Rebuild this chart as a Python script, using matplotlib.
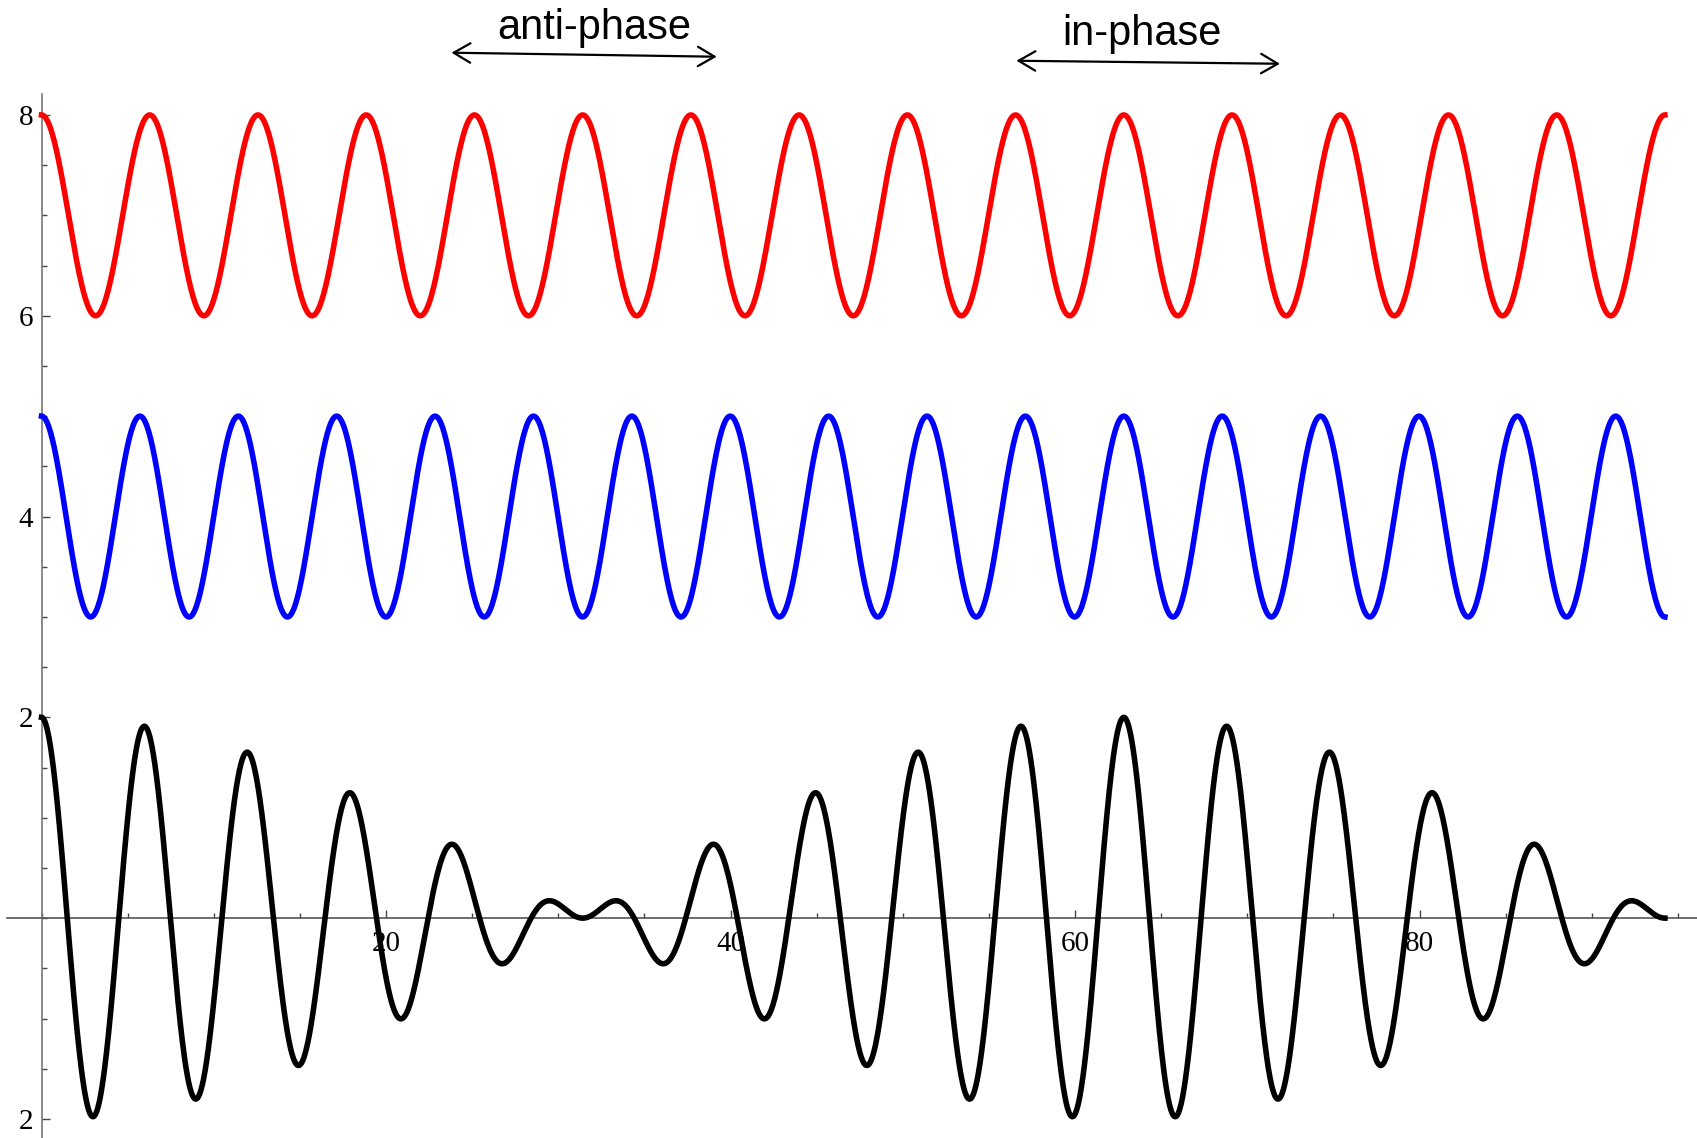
import numpy as np
import matplotlib
matplotlib.use("Agg")
import matplotlib.pyplot as plt
from matplotlib.ticker import MultipleLocator, FixedLocator, FixedFormatter

# --- values ---
T_END = 30 * np.pi            # curves end a bit past 94
FREQ_RED = 1.0                # 15 full periods over the range
FREQ_BLUE = 1.1               # 16.5 periods over the range
OFFSET_RED = 7.0
OFFSET_BLUE = 4.0
AMPLITUDE = 1.0

Y_TICKS = [8, 6, 4, 2, -2]
Y_LABELS = ["8", "6", "4", "2", "2"]
Y_MINOR = np.arange(-2.0, 8.01, 0.5)
X_TICKS = [20, 40, 60, 80]
X_LABELS = ["20", "40", "60", "80"]

t = np.linspace(0, T_END, 4000)
wave_red = AMPLITUDE * np.cos(FREQ_RED * t)
wave_blue = AMPLITUDE * np.cos(FREQ_BLUE * t)

fig = plt.figure(figsize=(16.97, 11.38), dpi=100)
ax = fig.add_axes([0, 0, 1, 1])

ax.plot(t, wave_red + wave_blue, color="black", lw=4.0, zorder=3)
ax.plot(t, OFFSET_BLUE + wave_blue, color="#0000ff", lw=4.0, zorder=3)
ax.plot(t, OFFSET_RED + wave_red, color="#ff0000", lw=4.0, zorder=3)

ax.set_xlim(-2.41, 96.11)
ax.set_ylim(-2.19, 9.145)

# Mathematica style axes crossing at the origin
for side in ["top", "right"]:
    ax.spines[side].set_visible(False)
ax.spines["left"].set_position(("data", 0))
ax.spines["bottom"].set_position(("data", 0))
ax.spines["left"].set_bounds(-2.19, 8.21)
ax.spines["bottom"].set_bounds(-2.0, 96.11)
ax.spines["left"].set_color("#777777")
ax.spines["bottom"].set_color("#555555")
ax.spines["left"].set_linewidth(1.2)
ax.spines["bottom"].set_linewidth(1.2)

ax.xaxis.set_major_locator(FixedLocator(X_TICKS))
ax.xaxis.set_major_formatter(FixedFormatter(X_LABELS))
ax.xaxis.set_minor_locator(MultipleLocator(5))
ax.yaxis.set_major_locator(FixedLocator(Y_TICKS))
ax.yaxis.set_major_formatter(FixedFormatter(Y_LABELS))
ax.yaxis.set_minor_locator(FixedLocator(Y_MINOR))

ax.tick_params(which="both", direction="in", color="#444444", width=1.0)
ax.tick_params(which="major", length=6)
ax.tick_params(which="minor", length=3.5)
ax.tick_params(axis="x", which="major", pad=9)
ax.tick_params(axis="y", which="major", pad=6)
for lab in ax.get_xticklabels() + ax.get_yticklabels():
    lab.set_fontfamily("Liberation Serif")
    lab.set_fontsize(21)

# phase annotations
arrow = dict(arrowstyle="<->,head_length=0.6,head_width=0.35",
             mutation_scale=20, lw=1.6, color="black", shrinkA=0, shrinkB=0)
ax.annotate("", xy=(23.8, 8.62), xytext=(39.2, 8.58), arrowprops=arrow)
ax.annotate("", xy=(56.6, 8.54), xytext=(71.9, 8.51), arrowprops=arrow)
ax.text(32.1, 8.757, "anti-phase", ha="center", va="baseline",
        fontsize=30, family="Liberation Sans")
ax.text(63.9, 8.70, "in-phase", ha="center", va="baseline",
        fontsize=30, family="Liberation Sans")

fig.savefig("out.png", dpi=100)
